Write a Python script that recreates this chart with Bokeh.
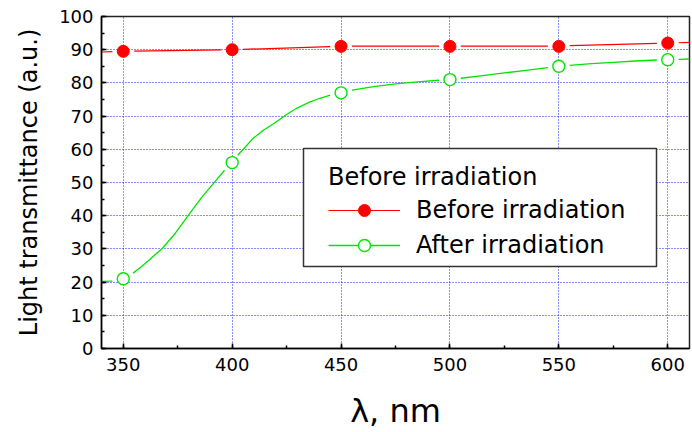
from bokeh.plotting import figure
from bokeh.models import (Legend, LegendItem, SingleIntervalTicker, Range1d,
                          BoxAnnotation)
from bokeh.embed import file_html
from bokeh.resources import INLINE

# ---- data ----
wavelength = [350, 400, 450, 500, 550, 600]
before_irr = [89.5, 90, 91, 91, 91, 92]
after_irr = [21, 56, 77, 81, 85, 87]

# drawn curves (the plotted lines, with the small gaps left around markers)
before_line_x = [[340, 345], [355, 395], [405, 445], [455, 495],
                 [505, 545], [555, 595], [605, 610]]
before_line_y = [[89.3, 89.4], [89.6, 89.95], [90.1, 90.9], [91.05, 91.05],
                 [91.05, 91.1], [91.2, 91.9], [92.1, 92.2]]
after_line_x = [[340, 345],
                [354.5, 358, 362, 368, 374, 380.5, 386, 392, 396.5],
                [402.5, 405.5, 409.5, 414, 419, 425.5, 430, 435.5, 440, 445],
                [455, 465, 475, 485, 495],
                [505, 515, 525, 535, 545],
                [555, 565, 575, 585, 595],
                [605, 610]]
after_line_y = [[20.2, 20.3],
                [22.7, 24.5, 26.7, 30.2, 34.8, 40.7, 45.5, 50.2, 53.7],
                [58.2, 60.3, 63.2, 65.6, 67.7, 70.7, 72.5, 74.2, 75.3, 76.3],
                [77.8, 78.9, 79.7, 80.3, 80.8],
                [81.4, 82.2, 83.0, 83.8, 84.6],
                [85.3, 85.8, 86.2, 86.6, 86.9],
                [87.1, 87.2]]

legend_title = "Before irradiation"
series_labels = ["Before irradiation", "After irradiation"]
x_label = "λ, nm"
y_label = "Light transmittance (a.u.)"

FONT = "DejaVu Sans"
RED = "#ff0000"
GREEN = "#00e600"

p = figure(width=692, height=432, x_range=Range1d(340, 610), y_range=Range1d(0, 100),
           output_backend="svg", toolbar_location=None,
           min_border_left=101, min_border_right=3, min_border_top=16, min_border_bottom=81)

p.background_fill_color = "white"
p.border_fill_color = "white"
p.outline_line_color = "#222222"
p.outline_line_width = 1.5

# axes
p.xaxis.ticker = SingleIntervalTicker(interval=50, num_minor_ticks=2)
p.yaxis.ticker = SingleIntervalTicker(interval=10, num_minor_ticks=2)
for ax in (p.xaxis, p.yaxis):
    ax.axis_line_color = "black"
    ax.axis_line_width = 1.5
    ax.major_tick_in = 5
    ax.major_tick_out = 0
    ax.minor_tick_in = 3
    ax.minor_tick_out = 0
    ax.major_tick_line_color = "black"
    ax.minor_tick_line_color = "black"
    ax.major_tick_line_width = 1.5
    ax.minor_tick_line_width = 1.5
    ax.major_label_text_font = FONT
    ax.major_label_text_font_size = "18px"
    ax.major_label_text_color = "black"
    ax.axis_label_text_font = FONT
    ax.axis_label_text_font_style = "normal"
    ax.axis_label_text_color = "black"

p.xaxis.axis_label = x_label
p.xaxis.axis_label_text_font_size = "32px"
p.xaxis.major_label_standoff = 9
p.xaxis.axis_label_standoff = 18
p.yaxis.axis_label = y_label
p.yaxis.axis_label_text_font_size = "24px"
p.yaxis.major_label_standoff = 8
p.yaxis.axis_label_standoff = 13

# grid
for g in (p.xgrid, p.ygrid):
    g.grid_line_color = "#0000ff"
    g.grid_line_dash = "1 2"
    g.grid_line_width = 1
    g.grid_line_alpha = 0.9

# data
r_line = p.multi_line(before_line_x, before_line_y, line_color=RED, line_width=1.2)
g_line = p.multi_line(after_line_x, after_line_y, line_color=GREEN, line_width=1.3)
r_pts = p.scatter(wavelength, before_irr, size=12, marker="circle",
                  fill_color=RED, line_color=RED)
g_pts = p.scatter(wavelength, after_irr, size=12, marker="circle",
                  fill_color="white", line_color=GREEN, line_width=1.4)

# legend frame (screen units, from the frame's bottom-left)
box = BoxAnnotation(left=202, right=555, bottom=82, top=200,
                    left_units="screen", right_units="screen",
                    bottom_units="screen", top_units="screen",
                    fill_color="white", fill_alpha=1.0,
                    line_color="#333333", line_width=1.5, line_alpha=1.0)
p.add_layout(box)

legend = Legend(items=[LegendItem(label=series_labels[0], renderers=[r_line, r_pts]),
                       LegendItem(label=series_labels[1], renderers=[g_line, g_pts])],
                location=(202, 63), title=legend_title)
legend.padding = 25
legend.margin = 0
legend.border_line_alpha = 0
legend.background_fill_alpha = 0
legend.glyph_width = 72
legend.glyph_height = 30
legend.label_height = 30
legend.label_standoff = 16
legend.spacing = 5
legend.title_standoff = 4
legend.label_text_font = FONT
legend.label_text_font_size = "24px"
legend.label_text_color = "black"
legend.title_text_font = FONT
legend.title_text_font_size = "24px"
legend.title_text_font_style = "normal"
legend.title_text_color = "black"
p.add_layout(legend)

open("out.html", "w").write(file_html(p, INLINE))
